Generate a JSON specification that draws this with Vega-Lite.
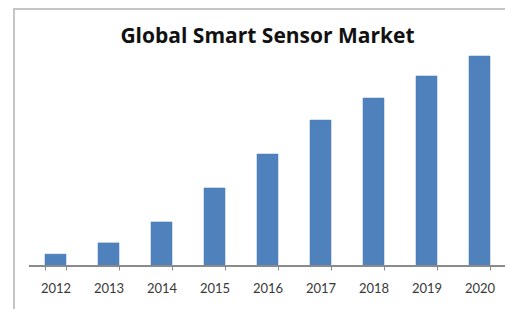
{
  "$schema": "https://vega.github.io/schema/vega-lite/v6.json",
  "autosize": {"type": "none"},
  "padding": {"left": 14, "top": 9, "right": 0, "bottom": 0},
  "width": 507,
  "height": 310,
  "background": "white",
  "title": {
    "text": "Global Smart Sensor Market",
    "font": "Open Sans",
    "fontSize": 21,
    "fontWeight": "bold",
    "color": "#111111",
    "anchor": "middle",
    "frame": "group",
    "baseline": "alphabetic",
    "offset": -55
  },
  "data": {
    "values": [
      {"year": "2012", "market": 3.4},
      {"year": "2013", "market": 6.6},
      {"year": "2014", "market": 12.6},
      {"year": "2015", "market": 22.3},
      {"year": "2016", "market": 32.0},
      {"year": "2017", "market": 41.7},
      {"year": "2018", "market": 48.0},
      {"year": "2019", "market": 54.3},
      {"year": "2020", "market": 60.0}
    ]
  },
  "encoding": {
    "x": {
      "field": "year",
      "type": "ordinal",
      "scale": {"paddingInner": 0.6038, "paddingOuter": 0.5849},
      "axis": {
        "title": null,
        "labelAngle": 0,
        "labelFont": "Lato",
        "labelFontSize": 13,
        "labelColor": "#383838",
        "labelPadding": 12,
        "tickBand": "extent",
        "tickSize": 4,
        "tickColor": "#8a8a8a",
        "domain": false,
        "offset": -53,
        "grid": false
      }
    },
    "y": {
      "field": "market",
      "type": "quantitative",
      "scale": {"domain": [-15.143, 73.43], "nice": false, "zero": false},
      "axis": null
    }
  },
  "layer": [
    {
      "mark": {"type": "bar", "color": "#4f81bd", "stroke": "#4a7ab5", "strokeWidth": 0.5},
      "encoding": {"y2": {"datum": 0}}
    },
    {
      "mark": {"type": "rule", "color": "#8a8a8a", "strokeWidth": 1},
      "encoding": {
        "x": {"datum": "2012", "bandPosition": -0.762},
        "x2": {"datum": "2020", "bandPosition": 2},
        "y": {"datum": 0},
        "y2": null
      }
    }
  ],
  "config": {
    "view": {"stroke": "#c4c4c4", "strokeWidth": 2}
  }
}
